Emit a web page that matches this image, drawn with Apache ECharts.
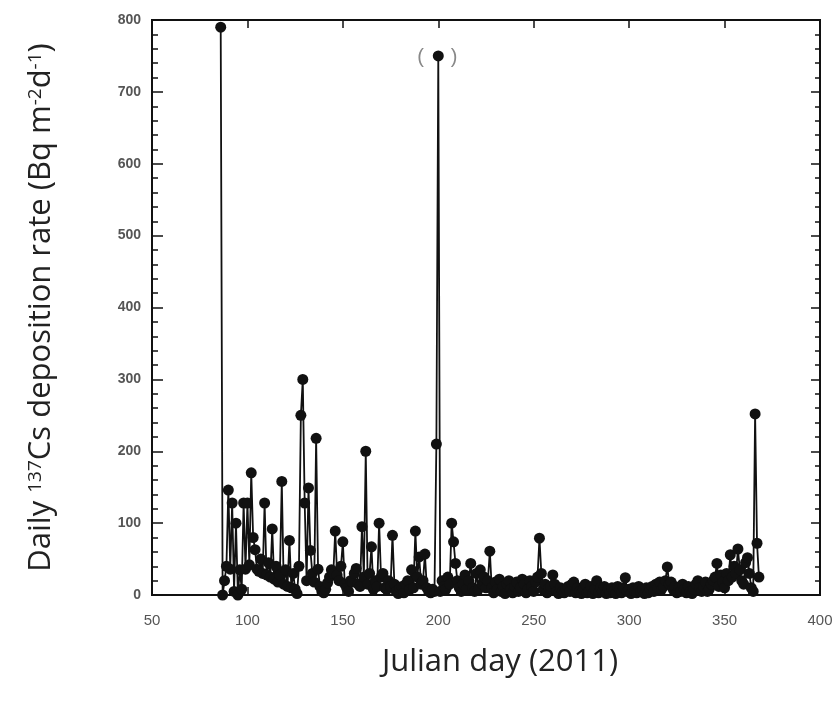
<!DOCTYPE html>
<html>
<head>
<meta charset="utf-8">
<script src="https://cdn.jsdelivr.net/npm/echarts@6/dist/echarts.min.js"></script>
<style>
html,body{margin:0;padding:0;background:#fff;}
#chart{width:838px;height:701px;}
</style>
</head>
<body>
<div id="chart"></div>
<script>
// Daily 137Cs deposition rate (Bq m-2 d-1), consecutive Julian days
const startA = 86;  // days 86-135
const valuesA = [790,0,20,40,146,36,128,5,100,0,
                 35,8,128,36,128,42,170,80,63,36,
                 33,50,30,128,28,45,25,92,22,40,
                 18,28,158,15,35,12,76,10,30,8,
                 2,40,250,300,128,20,149,62,30,18];
const startB = 136; // days 136-185
const valuesB = [218,36,12,5,3,8,17,25,35,30,
                 89,28,20,40,74,15,10,5,20,18,
                 30,37,15,12,95,25,200,15,30,67,
                 8,20,12,100,25,30,10,8,20,12,
                 83,15,5,2,10,12,3,15,20,8];
const startC = 186; // days 186-235
const valuesC = [35,10,89,25,53,15,20,57,10,5,
                 3,8,5,210,750,5,20,12,8,25,
                 15,100,74,44,20,10,5,15,28,8,
                 20,44,10,5,30,8,35,15,25,10,
                 20,61,10,3,18,8,22,5,12,2];
const startD = 236; // days 236-285
const valuesD = [15,20,8,3,12,18,5,10,22,15,
                 3,8,20,12,5,18,25,79,30,8,
                 15,3,10,12,28,15,5,2,10,5,
                 3,8,12,5,15,18,3,10,5,2,
                 8,15,3,5,12,2,8,20,3,10];
const startE = 286; // days 286-335
const valuesE = [5,12,2,8,3,10,5,2,12,8,
                 3,10,24,5,8,2,10,5,3,12,
                 5,8,2,10,3,8,12,5,15,10,
                 18,8,12,20,39,15,18,8,12,3,
                 10,5,15,8,3,12,5,2,8,15];
const startF = 336; // days 336-368
const valuesF = [20,10,5,12,18,5,8,15,20,25,
                 44,12,28,18,10,30,20,56,25,40,
                 30,64,35,20,15,45,52,30,10,5,
                 252,72,25];

const xTicks = {min: 50, max: 400, interval: 50};
const yTicks = {min: 0, max: 800, interval: 100};
const bracketedDay = 200, bracketedValue = 750;

const chunks = [[startA, valuesA],[startB, valuesB],[startC, valuesC],[startD, valuesD],[startE, valuesE],[startF, valuesF]];
const seriesData = [];
chunks.forEach(([s, vals]) => vals.forEach((v, i) => seriesData.push([s + i, v])));

const chart = echarts.init(document.getElementById('chart'), null, {renderer: 'canvas'});
const axisLine = {show: true, onZero: false, lineStyle: {color: '#111', width: 2}};
const titleFont = '"Open Sans", "Noto Sans", sans-serif';
const option = {
  animation: false,
  backgroundColor: '#ffffff',
  grid: {left: 152, right: 18, top: 20, bottom: 106, containLabel: false,
         show: true, borderColor: '#111', borderWidth: 2, backgroundColor: 'transparent'},
  xAxis: [{
    type: 'value', position: 'bottom', min: xTicks.min, max: xTicks.max, interval: xTicks.interval,
    axisLine: axisLine,
    axisTick: {show: true, inside: true, length: 8, lineStyle: {color: '#111', width: 1.5}},
    axisLabel: {margin: 18, fontSize: 15, color: '#555', fontFamily: '"Liberation Sans Narrow", "Liberation Sans", Arial, sans-serif'},
    splitLine: {show: false},
    name: 'Julian day (2011)', nameLocation: 'middle', nameGap: 52,
    nameTextStyle: {fontSize: 31, color: '#222', fontFamily: titleFont, padding: [0, 0, 0, 28]}
  },{
    type: 'value', position: 'top', min: xTicks.min, max: xTicks.max, interval: xTicks.interval,
    axisLine: axisLine,
    axisTick: {show: true, inside: true, length: 8, lineStyle: {color: '#111', width: 1.5}},
    axisLabel: {show: false}, splitLine: {show: false}
  }],
  yAxis: [{
    type: 'value', position: 'left', min: yTicks.min, max: yTicks.max, interval: yTicks.interval,
    axisLine: axisLine,
    axisTick: {show: true, inside: true, length: 11, lineStyle: {color: '#111', width: 1.5}},
    minorTick: {show: true, splitNumber: 5, length: 6, lineStyle: {color: '#111', width: 1.5}},
    axisLabel: {margin: 11, fontSize: 14, fontWeight: 'bold', color: '#555', fontFamily: '"Liberation Sans", Arial, sans-serif'},
    splitLine: {show: false}, minorSplitLine: {show: false},
    name: 'Daily {sup|137}Cs deposition rate (Bq m{sup|-2}d{sup|-1})',
    nameLocation: 'middle', nameGap: 95,
    nameTextStyle: {fontSize: 31, color: '#222', fontFamily: titleFont,
      rich: {sup: {fontSize: 19, verticalAlign: 'top', lineHeight: 18, color: '#222', fontFamily: titleFont}}}
  },{
    type: 'value', position: 'right', min: yTicks.min, max: yTicks.max, interval: yTicks.interval,
    axisLine: axisLine,
    axisTick: {show: true, inside: true, length: 9, lineStyle: {color: '#111', width: 1.5}},
    minorTick: {show: true, splitNumber: 5, length: 5, lineStyle: {color: '#111', width: 1.5}},
    axisLabel: {show: false}, splitLine: {show: false}, minorSplitLine: {show: false}
  }],
  series: [{
    type: 'line', xAxisIndex: 0, yAxisIndex: 0,
    data: seriesData,
    symbol: 'circle', symbolSize: 11, showAllSymbol: true,
    lineStyle: {color: '#111', width: 1.8},
    itemStyle: {color: '#111'},
    markPoint: {
      symbol: 'circle', symbolSize: 1, itemStyle: {color: 'rgba(0,0,0,0)'},
      data: [{coord: [bracketedDay, bracketedValue]}],
      label: {show: true, position: 'inside', offset: [-1, 2], formatter: '{p|(}{g|}{p|)}',
        rich: {p: {fontSize: 20, color: '#888', fontFamily: '"Liberation Sans", Arial, sans-serif'}, g: {width: 27}}}
    }
  }]
};
chart.setOption(option);
</script>
</body>
</html>
